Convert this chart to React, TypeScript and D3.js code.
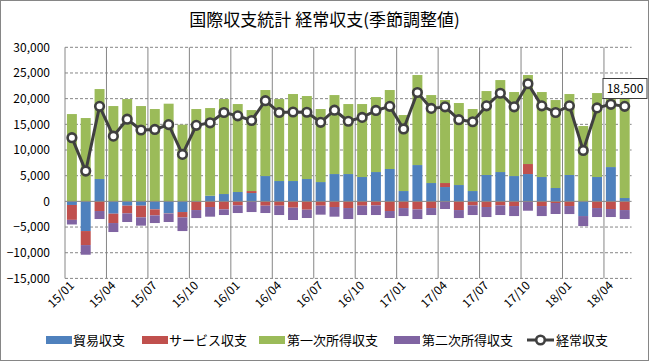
import React from "react";
import * as d3 from "d3";

const months = [
  "15/01","15/02","15/03","15/04","15/05","15/06","15/07","15/08","15/09","15/10","15/11","15/12",
  "16/01","16/02","16/03","16/04","16/05","16/06","16/07","16/08","16/09","16/10","16/11","16/12",
  "17/01","17/02","17/03","17/04","17/05","17/06","17/07","17/08","17/09","17/10","17/11","17/12",
  "18/01","18/02","18/03","18/04","18/05",
];
const trade = [
  -700,-5780,4350,-2400,-840,-840,-1560,-2340,-2080,0,1100,1430,
  1820,1620,4930,3960,3960,4350,3760,5320,5320,4740,5710,6300,
  2010,7070,3570,2790,3180,2010,5130,5710,4930,5320,4740,2600,
  5130,-2860,4740,6680,650,
];
const services = [
  -2900,-2730,-1880,-1820,-1490,-2270,-1170,-60,-1040,-1690,-1100,-1560,
  -780,390,-840,-840,-1230,-1620,-840,-1100,-1300,-840,-780,-1880,
  -1300,-1560,-1300,780,-1690,-780,-1100,-780,-910,1950,-910,-320,
  -910,0,-1300,-1490,-1690,
];
const primaryIncome = [
  17000,16225,17520,18560,19920,18560,17980,19020,14930,17980,17070,18490,
  17130,15770,16750,15960,16940,16160,14220,15380,13630,14210,14600,15380,
  14800,17530,17130,16160,15970,15970,16350,17910,16360,17330,16550,17130,
  15770,14670,16350,15270,21290,
];
const secondaryIncome = [
  -900,-1880,-1560,-1750,-1690,-1620,-1490,-1620,-2660,-1560,-1880,-1100,
  -1490,-2080,-1430,-1820,-2400,-1620,-1750,-1880,-2140,-1820,-1880,-1360,
  -1560,-1880,-1360,-1490,-1560,-1880,-1950,-1880,-1950,-1820,-1950,-2140,
  -1560,-1950,-1750,-1560,-1750,
];
const currentAccount = [
  12400,5900,18500,12700,16000,13900,14000,14950,9150,14800,15300,17300,
  16650,15750,19600,17300,17400,17350,15400,17750,15600,16350,17700,18500,
  14100,21200,18100,18400,15900,15500,18600,21050,18400,22900,18600,17300,
  18600,9900,18200,18900,18500,
];
const yTicks = [30000, 25000, 20000, 15000, 10000, 5000, 0, -5000, -10000, -15000];
const seriesNames = ["貿易収支", "サービス収支", "第一次所得収支", "第二次所得収支"];
const lineName = "経常収支";
const title = "国際収支統計 経常収支(季節調整値)";
const lastLabel = "18,500";

const colors = ["#4F81BD", "#C0504D", "#9BBB59", "#8064A2"];
const FONT = "'Noto Sans CJK JP', 'Noto Sans', sans-serif";

export default function App() {
  const W = 649, H = 361;
  const left = 65, right = 631.6, top = 47.3, bottom = 278.4;
  const x = d3.scaleBand<string>().domain(months).range([left, right]).paddingInner(0.28).paddingOuter(0.14);
  const y = d3.scaleLinear().domain([-15000, 30000]).range([bottom, top]);
  const step = (right - left) / months.length;
  const series = [trade, services, primaryIncome, secondaryIncome];

  const rects: React.ReactNode[] = [];
  months.forEach((m, i) => {
    let pos = 0, neg = 0;
    series.forEach((s, k) => {
      const v = s[i];
      if (v === 0) return;
      let y0, y1;
      if (v > 0) { y0 = pos; y1 = pos + v; pos = y1; }
      else { y1 = neg; y0 = neg + v; neg = y0; }
      rects.push(
        <rect key={`${k}-${i}`} x={x(m)} width={x.bandwidth()} y={y(y1)} height={y(y0) - y(y1)} fill={colors[k]} />
      );
    });
  });

  const cx = (i: number) => (x(months[i]) as number) + x.bandwidth() / 2;
  const line = d3.line<number>().x((_, i) => cx(i)).y((d) => y(d));

  const vGrid = d3.range(3, months.length, 3).map((k) => left + k * step);
  const labelIdx = d3.range(0, months.length, 3);

  const legendItems = [
    { sx: 46, tx: 73 },
    { sx: 142, tx: 169 },
    { sx: 259, tx: 287 },
    { sx: 394, tx: 422 },
  ];
  const ly = 340;

  return (
    <svg width={W} height={H} style={{ position: "absolute", left: 0, top: 0, fontFamily: FONT }}>
      <rect x={0.5} y={0.5} width={W - 1} height={H - 1} fill="#fff" stroke="#868686" />
      <text x={324.5} y={26} textAnchor="middle" fontSize={17} fill="#000">{title}</text>
      {yTicks.filter((t) => t !== 0).map((t) => (
        <line key={t} x1={left} x2={right} y1={y(t)} y2={y(t)} stroke="#868686" strokeWidth={1} strokeDasharray="3,2" />
      ))}
      {vGrid.map((gx, i) => (
        <line key={i} x1={gx} x2={gx} y1={top} y2={bottom} stroke="#868686" strokeWidth={1} />
      ))}
      <line x1={left} x2={left} y1={top} y2={bottom} stroke="#868686" />
      {yTicks.map((t) => (
        <text key={t} x={50} y={y(t)} dy="0.35em" textAnchor="end" fontSize={12} fill="#000">{d3.format(",")(t)}</text>
      ))}
      {rects}
      <line x1={left} x2={right} y1={y(0)} y2={y(0)} stroke="#868686" />
      <path d={line(currentAccount) || ""} fill="none" stroke="#404040" strokeWidth={3} strokeLinejoin="round" />
      {currentAccount.map((v, i) => (
        <circle key={i} cx={cx(i)} cy={y(v)} r={4.3} fill="#fff" stroke="#404040" strokeWidth={2.6} />
      ))}
      {labelIdx.map((i) => (
        <text key={i} transform={`translate(${cx(i) + 3},${bottom + 8}) rotate(-45)`} textAnchor="end" fontSize={12} fill="#000">{months[i]}</text>
      ))}
      <rect x={603} y={78.5} width={44} height={20} fill="#fff" stroke="#404040" />
      <text x={625} y={88.5} dy="0.35em" textAnchor="middle" fontSize={12} fill="#000">{lastLabel}</text>
      {legendItems.map((it, k) => (
        <g key={k}>
          <rect x={it.sx} y={ly - 4} width={26} height={8} fill={colors[k]} />
          <text x={it.tx} y={ly} dy="0.35em" fontSize={13} fill="#000">{seriesNames[k]}</text>
        </g>
      ))}
      <line x1={527} x2={554} y1={ly} y2={ly} stroke="#404040" strokeWidth={3} />
      <circle cx={540.5} cy={ly} r={4.3} fill="#fff" stroke="#404040" strokeWidth={2.6} />
      <text x={556} y={ly} dy="0.35em" fontSize={13} fill="#000">{lineName}</text>
    </svg>
  );
}
